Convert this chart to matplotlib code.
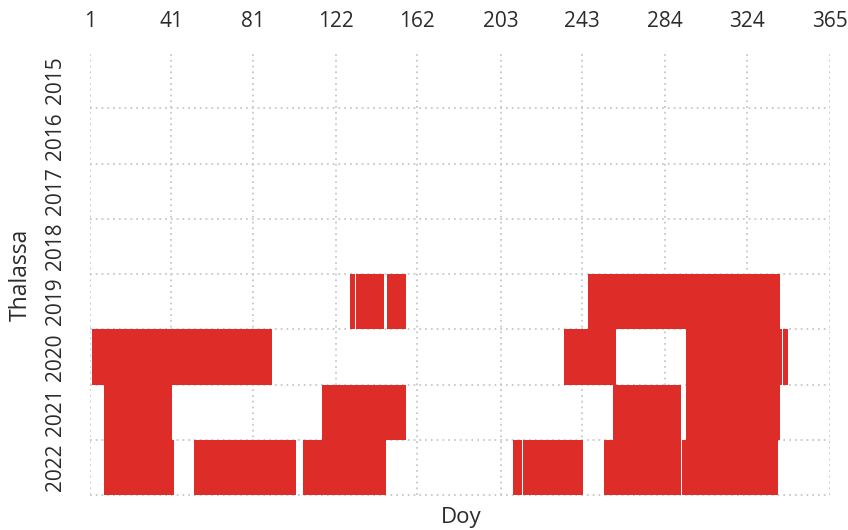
import matplotlib
matplotlib.use("Agg")
import matplotlib.pyplot as plt

plt.rcParams['font.family'] = ['Open Sans', 'DejaVu Sans']

years = [2015, 2016, 2017, 2018, 2019, 2020, 2021, 2022]
xticks = [1, 41, 81, 122, 162, 203, 243, 284, 324, 365]

# presence intervals (day-of-year start, end) per year
bar_years = [2019, 2019, 2019, 2019,
             2020, 2020, 2020, 2020,
             2021, 2021, 2021, 2021,
             2022, 2022, 2022, 2022, 2022, 2022, 2022]
bar_start = [129.0, 131.8, 147.1, 246.0,
             2.0, 234.2, 294.2, 341.9,
             7.9, 115.1, 258.3, 294.2,
             7.9, 52.2, 105.8, 209.1, 214.0, 253.8, 292.2]
bar_end = [131.3, 145.6, 156.4, 340.4,
           90.5, 259.7, 341.4, 344.3,
           41.3, 156.4, 291.7, 340.4,
           42.3, 102.3, 146.6, 213.5, 243.5, 291.7, 339.4]

red = '#de2d28'
txt = '#2b2b2b'

fig = plt.figure(figsize=(8.48, 5.30), dpi=100)
ax = fig.add_axes([90/848, 1-495/530, 740/848, 442/530])

ypos = {y: i for i, y in enumerate(years)}
for yr, s, e in zip(bar_years, bar_start, bar_end):
    ax.barh(ypos[yr], e - s, left=s, height=1.0, color=red, linewidth=0, zorder=2)

ax.set_xlim(1, 365)
ax.set_ylim(len(years) - 0.5, -0.5)

# gridlines
for x in xticks:
    ax.axvline(x, color='#c8c8c8', lw=1.3, ls=(0, (1, 2.2)), zorder=1)
for i in range(len(years)):
    ax.axhline(i + 0.5, color='#c8c8c8', lw=1.3, ls=(0, (1, 2.2)), zorder=1, clip_on=False)

ax.xaxis.tick_top()
ax.set_xticks(xticks)
ax.set_xticklabels([str(v) for v in xticks], fontsize=15, color=txt)
ax.set_yticks(range(len(years)))
ax.set_yticklabels([str(y) for y in years], fontsize=15, color=txt, rotation=90, va='center')
ax.tick_params(axis='both', length=0)
ax.tick_params(axis='x', pad=15)
ax.tick_params(axis='y', pad=17)
for sp in ax.spines.values():
    sp.set_visible(False)

fig.text(21/848, 1-275/530, 'Thalassa', rotation=90, ha='center', va='center', fontsize=16.5, color=txt)
fig.text(461/848, 1-517/530, 'Doy', ha='center', va='center', fontsize=16, color=txt)

fig.savefig('out.png', dpi=100)
